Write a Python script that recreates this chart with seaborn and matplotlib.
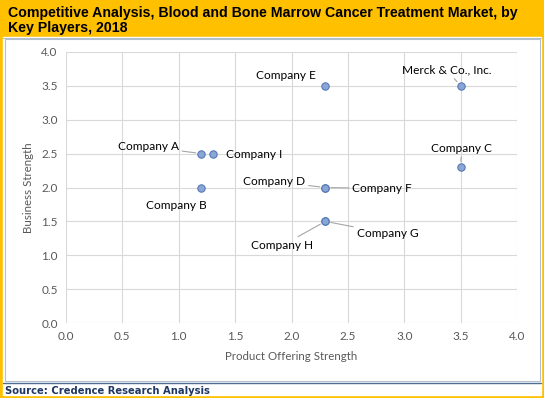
import numpy as np
import pandas as pd
import matplotlib
matplotlib.use("Agg")
import matplotlib.pyplot as plt
import seaborn as sns
from matplotlib.patches import Rectangle
from matplotlib.lines import Line2D

companies = ["Company A", "Company I", "Company B", "Company E", "Merck & Co., Inc.",
             "Company C", "Company D", "Company F", "Company G", "Company H"]
product_strength = [1.2, 1.3, 1.2, 2.3, 3.5, 3.5, 2.3, 2.3, 2.3, 2.3]
business_strength = [2.5, 2.5, 2.0, 3.5, 3.5, 2.3, 2.0, 2.0, 1.5, 1.5]

# label placement (pixel offsets from each point) and whether a leader line is drawn
label_offsets = {
    "Company A": (-53, 7, True), "Company I": (42, -1, False), "Company B": (-25, -18, False),
    "Company E": (-39, 10, False), "Merck & Co., Inc.": (-14, 16, True),
    "Company C": (1, 19, True), "Company D": (-51, 6, True), "Company F": (57, -1, True),
    "Company G": (62, -12, True), "Company H": (-43, -24, True),
}

df = pd.DataFrame({"company": companies, "x": product_strength, "y": business_strength})

sns.set_style("white")
plt.rcParams["font.family"] = ["Lato", "DejaVu Sans"]

fig = plt.figure(figsize=(5.44, 3.98), dpi=100)
W, H = 544, 398

def px(x, y, w, h):
    return (x / W, 1 - (y + h) / H, w / W, h / H)

# frame: yellow border/title band, white body
fig.patches.append(Rectangle((0, 0), 1, 1, transform=fig.transFigure, color="#FFC000", zorder=-3))
x0, y0, w0, h0 = px(3, 37, 538, 358)
fig.patches.append(Rectangle((x0, y0), w0, h0, transform=fig.transFigure, color="white", zorder=-2))
x1, y1, w1, h1 = px(4.5, 39, 535.5, 342)
fig.patches.append(Rectangle((x1, y1), w1, h1, transform=fig.transFigure, fill=False,
                             edgecolor="#B4C0D0", lw=0.8, zorder=-1))
fig.lines.append(Line2D([3 / W, 541 / W], [1 - 37.5 / H] * 2, transform=fig.transFigure,
                        color="#B4C0D0", lw=0.8))
fig.lines.append(Line2D([3 / W, 541 / W], [1 - 383 / H] * 2, transform=fig.transFigure,
                        color="#4F6E94", lw=1.0))

fig.text(8 / W, 1 - 6 / H, "Competitive Analysis, Blood and Bone Marrow Cancer Treatment Market, by\nKey Players, 2018",
         ha="left", va="top", fontsize=10.2, fontweight="bold", family="Liberation Sans",
         color="black", linespacing=1.05)
fig.text(5 / W, 1 - 390.5 / H, "Source: Credence Research Analysis", ha="left", va="center",
         fontsize=7.2, fontweight="bold", family="DejaVu Sans", color="#1F3864")

ax = fig.add_axes([66 / W, 1 - 323 / H, (517 - 66) / W, (323 - 52) / H])
sns.scatterplot(data=df, x="x", y="y", ax=ax, s=28, color="#8AA6D6", edgecolor="#5578B4",
                linewidth=0.8, zorder=3, clip_on=False)

ax.set_xlim(0, 4)
ax.set_ylim(0, 4)
ax.set_xticks(np.arange(0, 4.01, 0.5))
ax.set_yticks(np.arange(0, 4.01, 0.5))
ax.set_xticklabels([f"{v:.1f}" for v in np.arange(0, 4.01, 0.5)])
ax.set_yticklabels([f"{v:.1f}" for v in np.arange(0, 4.01, 0.5)])
ax.grid(True, color="#D9D9D9", lw=0.8)
ax.set_axisbelow(True)
for s in ax.spines.values():
    s.set_visible(False)
ax.tick_params(length=0, labelsize=8.5, labelcolor="#595959", pad=6)
ax.set_xlabel("Product Offering Strength", fontsize=8.3, color="#595959", labelpad=6)
ax.set_ylabel("Business Strength", fontsize=8.3, color="#595959", labelpad=5)

for name, xv, yv in zip(companies, product_strength, business_strength):
    dx, dy, leader = label_offsets[name]
    ap = dict(arrowstyle="-", color="#A6A6A6", lw=0.8, shrinkA=0, shrinkB=4) if leader else None
    ax.annotate(name, (xv, yv), xytext=(dx, dy), textcoords="offset pixels",
                ha="center", va="center", fontsize=8.6, color="black", arrowprops=ap)

fig.savefig("out.png", dpi=100)
